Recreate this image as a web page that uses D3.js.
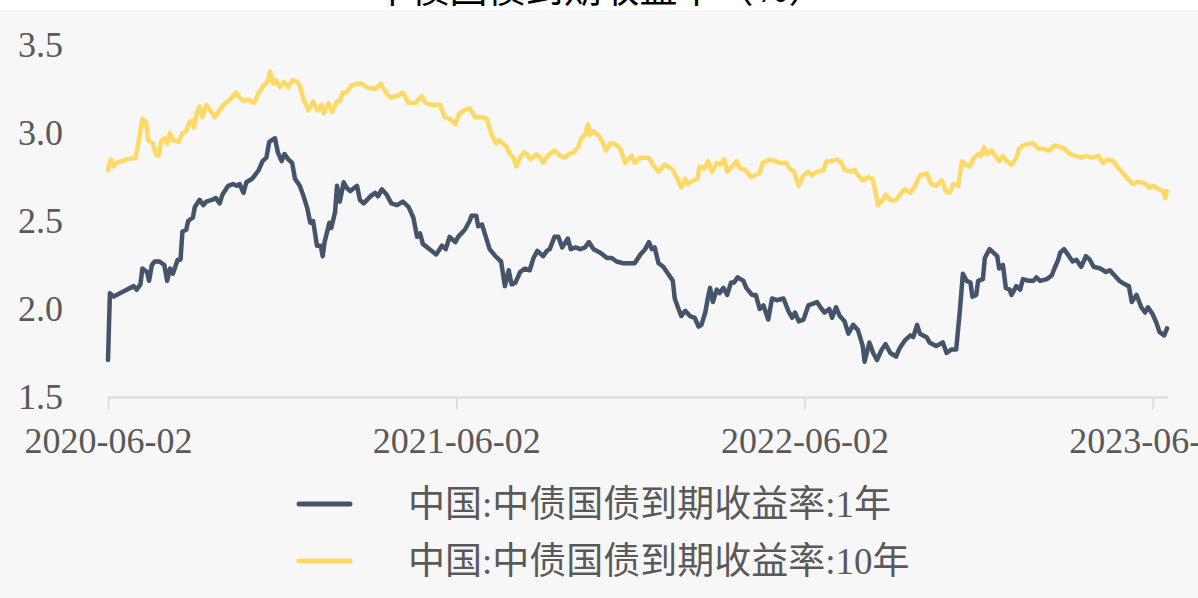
<!DOCTYPE html>
<html lang="zh">
<head>
  <meta charset="UTF-8">
  <title>中债国债到期收益率</title>
  <style>
    body { margin: 0; background: #fff; }
    svg { display: block; }
    .axis text { font-family: "Liberation Serif", "Times New Roman", serif; font-size: 36px; fill: #595959; }
    .legend text { font-family: "Liberation Serif", "Noto Sans CJK SC", serif; font-size: 37px; fill: #595959; }
  </style>
</head>
<body>
  <svg id="chart" width="1198" height="598"></svg>

  <script src="https://d3js.org/d3.v7.min.js"></script>
  <script>
    // 中国:中债国债到期收益率:1年
    const dates1y = [
      "2020-06-02","2020-06-04","2020-06-08","2020-06-11","2020-06-18","2020-06-29","2020-07-02","2020-07-06","2020-07-08","2020-07-13",
      "2020-07-15","2020-07-18","2020-07-21","2020-07-26","2020-07-31","2020-08-03","2020-08-06","2020-08-09","2020-08-14","2020-08-17",
      "2020-08-19","2020-08-23","2020-08-25","2020-08-30","2020-09-01","2020-09-06","2020-09-10","2020-09-13","2020-09-19","2020-09-23",
      "2020-09-27","2020-09-30","2020-10-06","2020-10-11","2020-10-15","2020-10-18","2020-10-22","2020-10-25","2020-10-31","2020-11-03",
      "2020-11-07","2020-11-11","2020-11-15","2020-11-18","2020-11-21","2020-11-24","2020-11-27","2020-12-01","2020-12-04","2020-12-08",
      "2020-12-12","2020-12-15","2020-12-20","2020-12-24","2020-12-28","2020-12-31",
      "2021-01-03","2021-01-07","2021-01-11","2021-01-13","2021-01-15","2021-01-20","2021-01-22","2021-01-26","2021-01-28","2021-01-31",
      "2021-02-04","2021-02-07","2021-02-11","2021-02-18","2021-02-21","2021-02-25","2021-03-04","2021-03-09","2021-03-12","2021-03-16",
      "2021-03-21","2021-03-26","2021-04-01","2021-04-07","2021-04-13","2021-04-18","2021-04-22","2021-04-25","2021-04-28","2021-05-05",
      "2021-05-12","2021-05-18","2021-05-22","2021-05-26","2021-06-01","2021-06-04","2021-06-11","2021-06-16","2021-06-18","2021-06-23",
      "2021-06-25","2021-06-29","2021-07-03","2021-07-07","2021-07-13","2021-07-19","2021-07-23","2021-07-27","2021-07-30","2021-08-03",
      "2021-08-08","2021-08-13","2021-08-18","2021-08-22","2021-08-26","2021-09-01","2021-09-05","2021-09-08","2021-09-13","2021-09-17",
      "2021-09-21","2021-09-27","2021-09-30","2021-10-05","2021-10-10","2021-10-15","2021-10-19","2021-10-24","2021-10-31","2021-11-07",
      "2021-11-12","2021-11-17","2021-11-24","2021-12-01","2021-12-06","2021-12-12","2021-12-17","2021-12-21","2021-12-24","2021-12-27",
      "2021-12-31",
      "2022-01-05","2022-01-10","2022-01-15","2022-01-17","2022-01-21","2022-01-24","2022-01-28","2022-02-02","2022-02-07","2022-02-11",
      "2022-02-14","2022-02-18","2022-02-21","2022-02-23","2022-02-26","2022-03-02","2022-03-05","2022-03-09","2022-03-13","2022-03-17",
      "2022-03-20","2022-03-24","2022-03-30","2022-04-02","2022-04-08","2022-04-12","2022-04-16","2022-04-20","2022-04-25","2022-04-29",
      "2022-05-04","2022-05-11","2022-05-16","2022-05-20","2022-05-23","2022-05-27","2022-06-01","2022-06-06","2022-06-11","2022-06-15",
      "2022-06-20","2022-06-23","2022-06-28","2022-07-01","2022-07-05","2022-07-09","2022-07-14","2022-07-18","2022-07-23","2022-07-28",
      "2022-08-02","2022-08-04","2022-08-09","2022-08-13","2022-08-17","2022-08-22","2022-08-26","2022-08-31","2022-09-06","2022-09-10",
      "2022-09-15","2022-09-21","2022-09-24","2022-09-28","2022-10-01","2022-10-08","2022-10-11","2022-10-18","2022-10-25","2022-10-29",
      "2022-11-03","2022-11-08","2022-11-12","2022-11-15","2022-11-19","2022-11-23","2022-11-25","2022-11-29","2022-12-01","2022-12-06",
      "2022-12-08","2022-12-10","2022-12-13","2022-12-17","2022-12-21","2022-12-23","2022-12-27","2022-12-30",
      "2023-01-03","2023-01-05","2023-01-10","2023-01-14","2023-01-17","2023-01-23","2023-01-28","2023-01-31","2023-02-04","2023-02-11",
      "2023-02-16","2023-02-19","2023-02-23","2023-02-25","2023-03-01","2023-03-05","2023-03-10","2023-03-14","2023-03-19","2023-03-24",
      "2023-03-28","2023-04-01","2023-04-08","2023-04-14","2023-04-18","2023-04-23","2023-04-28","2023-05-04","2023-05-08","2023-05-11",
      "2023-05-16","2023-05-21","2023-05-25","2023-05-28","2023-06-02","2023-06-06","2023-06-09","2023-06-14","2023-06-17"
    ];
    const rate1y = [
      1.71,2.09,2.07,2.08,2.10,2.13,2.11,2.14,2.23,2.21,
      2.16,2.25,2.27,2.27,2.25,2.16,2.23,2.20,2.28,2.28,
      2.44,2.45,2.50,2.52,2.58,2.62,2.59,2.61,2.62,2.63,
      2.60,2.65,2.70,2.71,2.70,2.71,2.66,2.72,2.74,2.76,
      2.79,2.84,2.86,2.95,2.96,2.97,2.89,2.84,2.88,2.85,
      2.83,2.74,2.70,2.64,2.57,2.49,
      2.50,2.36,2.36,2.30,2.38,2.49,2.46,2.55,2.70,2.61,
      2.72,2.69,2.67,2.70,2.62,2.60,2.64,2.66,2.64,2.68,
      2.65,2.60,2.59,2.61,2.58,2.52,2.41,2.43,2.37,2.34,
      2.31,2.36,2.34,2.41,2.38,2.41,2.45,2.50,2.53,2.53,
      2.47,2.48,2.41,2.34,2.30,2.27,2.13,2.22,2.14,2.15,
      2.21,2.23,2.22,2.29,2.33,2.30,2.33,2.34,2.41,2.41,
      2.35,2.40,2.34,2.35,2.34,2.35,2.38,2.34,2.32,2.29,
      2.29,2.27,2.26,2.26,2.26,2.31,2.34,2.38,2.34,2.35,
      2.26,
      2.24,2.20,2.16,2.06,2.00,1.96,1.99,1.96,1.95,1.90,
      1.91,1.98,2.07,2.12,2.04,2.11,2.09,2.12,2.08,2.15,
      2.15,2.18,2.16,2.12,2.08,2.08,2.00,2.02,1.94,2.06,
      2.05,2.06,1.99,1.95,1.98,1.93,1.94,2.02,2.03,2.04,
      2.00,1.98,2.00,1.95,2.01,1.96,1.93,1.86,1.91,1.88,
      1.79,1.70,1.81,1.75,1.71,1.77,1.80,1.75,1.73,1.78,
      1.82,1.85,1.84,1.91,1.86,1.84,1.81,1.79,1.81,1.75,
      1.77,1.77,2.00,2.20,2.16,2.15,2.07,2.08,2.16,2.17,
      2.29,2.31,2.34,2.32,2.30,2.23,2.25,2.12,
      2.11,2.08,2.13,2.11,2.17,2.16,2.16,2.18,2.16,2.17,
      2.19,2.23,2.28,2.32,2.34,2.31,2.27,2.28,2.24,2.30,
      2.28,2.24,2.23,2.21,2.22,2.19,2.16,2.14,2.13,2.04,
      2.08,2.01,1.98,2.01,1.97,1.92,1.87,1.85,1.89
    ];

    // 中国:中债国债到期收益率:10年
    const dates10y = [
      "2020-06-02","2020-06-05","2020-06-08","2020-06-11","2020-06-22","2020-07-01","2020-07-05","2020-07-08","2020-07-12","2020-07-14",
      "2020-07-19","2020-07-22","2020-07-25","2020-07-28","2020-08-01","2020-08-03","2020-08-06","2020-08-09","2020-08-15","2020-08-19",
      "2020-08-23","2020-08-26","2020-08-29","2020-08-31","2020-09-03","2020-09-06","2020-09-09","2020-09-13","2020-09-17","2020-09-22",
      "2020-09-27","2020-10-01","2020-10-08","2020-10-14","2020-10-18","2020-10-23","2020-10-27","2020-11-02","2020-11-07","2020-11-12",
      "2020-11-16","2020-11-19","2020-11-22","2020-11-25","2020-11-29","2020-12-03","2020-12-08","2020-12-12","2020-12-17","2020-12-20",
      "2020-12-24","2020-12-29",
      "2021-01-03","2021-01-07","2021-01-12","2021-01-14","2021-01-19","2021-01-23","2021-01-28","2021-01-31","2021-02-03","2021-02-07",
      "2021-02-12","2021-02-18","2021-02-23","2021-02-28","2021-03-09","2021-03-15","2021-03-19","2021-03-25","2021-04-01","2021-04-07",
      "2021-04-13","2021-04-20","2021-04-27","2021-05-01","2021-05-07","2021-05-16","2021-05-21","2021-05-26","2021-06-01","2021-06-05",
      "2021-06-11","2021-06-16","2021-06-22","2021-06-29","2021-07-04","2021-07-09","2021-07-14","2021-07-17","2021-07-21","2021-07-25",
      "2021-07-28","2021-08-01","2021-08-04","2021-08-08","2021-08-12","2021-08-15","2021-08-19","2021-08-25","2021-08-29","2021-09-01",
      "2021-09-06","2021-09-13","2021-09-19","2021-09-24","2021-09-28","2021-10-03","2021-10-08","2021-10-11","2021-10-15","2021-10-18",
      "2021-10-20","2021-10-24","2021-10-30","2021-11-03","2021-11-06","2021-11-10","2021-11-15","2021-11-21","2021-11-26","2021-11-29",
      "2021-12-03","2021-12-06","2021-12-12","2021-12-17","2021-12-21","2021-12-25","2021-12-31",
      "2022-01-06","2022-01-10","2022-01-15","2022-01-19","2022-01-24","2022-01-28","2022-01-31","2022-02-05","2022-02-10","2022-02-12",
      "2022-02-17","2022-02-21","2022-02-25","2022-03-02","2022-03-06","2022-03-10","2022-03-13","2022-03-18","2022-03-23","2022-03-26",
      "2022-04-01","2022-04-07","2022-04-11","2022-04-16","2022-04-19","2022-04-23","2022-04-27","2022-05-02","2022-05-07","2022-05-14",
      "2022-05-17","2022-05-22","2022-05-25","2022-05-27","2022-06-01","2022-06-06","2022-06-10","2022-06-15","2022-06-22","2022-06-25",
      "2022-06-30","2022-07-06","2022-07-11","2022-07-14","2022-07-20","2022-07-25","2022-07-28","2022-08-02","2022-08-08","2022-08-12",
      "2022-08-15","2022-08-18","2022-08-23","2022-08-26","2022-08-31","2022-09-06","2022-09-10","2022-09-15","2022-09-21","2022-09-26",
      "2022-10-01","2022-10-08","2022-10-13","2022-10-18","2022-10-24","2022-10-28","2022-11-01","2022-11-05","2022-11-10","2022-11-14",
      "2022-11-18","2022-11-22","2022-11-27","2022-12-01","2022-12-04","2022-12-07","2022-12-10","2022-12-15","2022-12-19","2022-12-23",
      "2022-12-27","2022-12-31",
      "2023-01-05","2023-01-10","2023-01-13","2023-01-17","2023-01-23","2023-01-28","2023-02-02","2023-02-07","2023-02-14","2023-02-19",
      "2023-02-25","2023-03-02","2023-03-07","2023-03-14","2023-03-19","2023-03-24","2023-03-30","2023-04-06","2023-04-11","2023-04-16",
      "2023-04-22","2023-04-27","2023-05-02","2023-05-07","2023-05-12","2023-05-16","2023-05-21","2023-05-26","2023-05-29","2023-06-03",
      "2023-06-08","2023-06-13","2023-06-15","2023-06-17"
    ];
    const rate10y = [
      2.79,2.85,2.81,2.83,2.85,2.86,2.98,3.08,3.06,2.96,
      2.94,2.88,2.87,2.96,2.97,2.94,3.00,2.96,2.95,3.00,
      3.01,3.06,3.07,3.03,3.11,3.15,3.09,3.16,3.13,3.09,
      3.13,3.16,3.19,3.23,3.20,3.18,3.19,3.17,3.23,3.27,
      3.29,3.35,3.28,3.30,3.26,3.29,3.26,3.30,3.29,3.27,
      3.19,3.13,
      3.18,3.13,3.16,3.11,3.17,3.12,3.18,3.18,3.23,3.23,
      3.27,3.28,3.28,3.26,3.25,3.28,3.24,3.20,3.21,3.23,
      3.17,3.17,3.21,3.17,3.16,3.16,3.09,3.08,3.05,3.11,
      3.13,3.14,3.09,3.09,3.08,2.99,2.94,2.96,2.94,2.92,
      2.88,2.86,2.81,2.86,2.89,2.88,2.85,2.88,2.86,2.83,
      2.87,2.90,2.87,2.86,2.88,2.89,2.92,2.97,2.99,3.05,
      2.99,3.01,2.98,2.94,2.90,2.94,2.94,2.91,2.83,2.85,
      2.87,2.83,2.86,2.86,2.86,2.82,2.78,
      2.82,2.81,2.79,2.75,2.69,2.74,2.71,2.73,2.74,2.81,
      2.80,2.84,2.78,2.83,2.82,2.85,2.78,2.81,2.84,2.80,
      2.79,2.75,2.76,2.77,2.83,2.84,2.85,2.84,2.83,2.83,
      2.80,2.78,2.73,2.70,2.76,2.78,2.76,2.78,2.79,2.84,
      2.84,2.85,2.83,2.79,2.78,2.79,2.76,2.73,2.75,2.74,
      2.68,2.59,2.62,2.65,2.62,2.62,2.65,2.68,2.66,2.70,
      2.76,2.77,2.71,2.70,2.73,2.67,2.66,2.71,2.70,2.84,
      2.82,2.81,2.86,2.88,2.87,2.92,2.88,2.90,2.87,2.84,
      2.87,2.84,
      2.82,2.86,2.91,2.93,2.94,2.94,2.91,2.91,2.90,2.93,
      2.92,2.91,2.88,2.87,2.86,2.87,2.86,2.87,2.83,2.85,
      2.84,2.80,2.77,2.74,2.71,2.72,2.72,2.71,2.69,2.70,
      2.68,2.67,2.63,2.67
    ];

    const yTicks = [1.5, 2.0, 2.5, 3.0, 3.5];
    const xTicks = ["2020-06-02", "2021-06-02", "2022-06-02", "2023-06-02"];
    const seriesNames = ["中国:中债国债到期收益率:1年", "中国:中债国债到期收益率:10年"];
    const seriesColors = ["#44546A", "#FFD966"];

    const parse = d3.timeParse("%Y-%m-%d");
    const series = [
      dates1y.map((d, i) => ({ date: parse(d), v: rate1y[i] })),
      dates10y.map((d, i) => ({ date: parse(d), v: rate10y[i] }))
    ];

    const svg = d3.select("#chart");

    svg.append("rect")
      .attr("x", 0).attr("y", 10)
      .attr("width", 1198).attr("height", 588)
      .attr("fill", "#F7F7F7");

    // title sits above the picture, only its lower edge shows
    svg.append("text")
      .attr("x", 600).attr("y", 2)
      .attr("text-anchor", "middle")
      .style("font-family", "\"Noto Sans CJK SC\", sans-serif")
      .style("font-size", "38px")
      .style("fill", "#000")
      .text("中债国债到期收益率（%）");

    const x = d3.scaleTime()
      .domain([parse("2020-06-02"), parse("2023-06-18")])
      .range([108, 1168]);
    const y = d3.scaleLinear().domain([1.5, 3.5]).range([397, 45]);

    const xAxis = svg.append("g")
      .attr("class", "axis")
      .attr("transform", "translate(0,397)")
      .call(d3.axisBottom(x)
        .tickValues(xTicks.map(parse))
        .tickSize(13).tickSizeOuter(0).tickPadding(17)
        .tickFormat(d3.timeFormat("%Y-%m-%d")));
    xAxis.select(".domain").attr("stroke", "#D9D9D9").attr("stroke-width", 2);
    xAxis.selectAll(".tick line").attr("stroke", "#D9D9D9").attr("stroke-width", 1.5);

    const yAxis = svg.append("g")
      .attr("class", "axis")
      .attr("transform", "translate(108,0)")
      .call(d3.axisLeft(y)
        .tickValues(yTicks)
        .tickSize(0).tickPadding(45)
        .tickFormat(d3.format(".1f")));
    yAxis.select(".domain").remove();

    const line = d3.line()
      .x(d => x(d.date))
      .y(d => y(d.v));

    svg.selectAll(".series")
      .data(series)
      .join("path")
      .attr("class", "series")
      .attr("d", line)
      .attr("fill", "none")
      .attr("stroke", (d, i) => seriesColors[i])
      .attr("stroke-width", 4.5)
      .attr("stroke-linejoin", "round")
      .attr("stroke-linecap", "round");

    const legend = svg.append("g").attr("class", "legend");
    const item = legend.selectAll("g")
      .data(seriesNames)
      .join("g")
      .attr("transform", (d, i) => `translate(0,${504 + i * 57})`);
    item.append("line")
      .attr("x1", 299).attr("x2", 350)
      .attr("stroke", (d, i) => seriesColors[i])
      .attr("stroke-width", 5)
      .attr("stroke-linecap", "round");
    item.append("text")
      .attr("x", 408)
      .attr("dominant-baseline", "central")
      .text(d => d);
  </script>
</body>
</html>
